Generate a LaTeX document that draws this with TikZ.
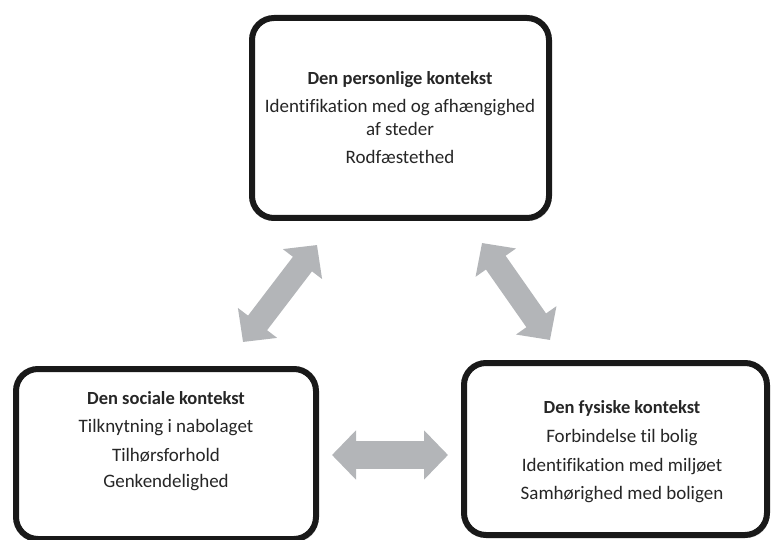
\documentclass[tikz,border=0pt]{standalone}
\usepackage{fontspec}
\setmainfont{Carlito}[Ligatures=NoCommon]
\usetikzlibrary{arrows.meta,shadows}
\begin{document}
\begin{tikzpicture}[x=1pt,y=-1pt,
  box/.style={draw=black!90,line width=6pt,rounded corners=22pt,fill=white,
    drop shadow={opacity=0.25,shadow xshift=2pt,shadow yshift=-3pt}},
  title/.style={font=\fontsize{18.5}{22}\selectfont\bfseries,text=black!85,inner sep=0pt},
  item/.style={font=\fontsize{19}{22}\selectfont,text=black!85,inner sep=0pt},
  bigarrow/.style={draw=arrowgray,line width=24pt,
    {Triangle[length=24pt,width=48pt]}-{Triangle[length=24pt,width=48pt]}}
]
\definecolor{arrowgray}{HTML}{B3B5B8}
\useasboundingbox (0,0) rectangle (774,540);
\node[box,minimum width=297pt,minimum height=200pt] (top) at (400.5,118) {};
\node[box,minimum width=300pt,minimum height=170pt] (left) at (166,454) {};
\node[box,minimum width=303pt,minimum height=172pt] (right) at (615.5,449) {};

\node[title] (t1) at (400,80) {Den personlige kontekst};
\node[item] (t2) at (400,108) {Identifikation med og afhængighed};
\node[item] (t3) at (400,129) {af steder};
\node[item] (t4) at (400,157) {Rodfæstethed};

\node[title] (l1) at (166,398) {Den sociale kontekst};
\node[item] (l2) at (166,428) {Tilknytning i nabolaget};
\node[item] (l3) at (166,455) {Tilhørsforhold};
\node[item] (l4) at (166,483) {Genkendelighed};

\node[title] (r1) at (622,408) {Den fysiske kontekst};
\node[item] (r2) at (622,438) {Forbindelse til bolig};
\node[item] (r3) at (622,467) {Identifikation med miljøet};
\node[item] (r4) at (622,495) {Samhørighed med boligen};

\coordinate (a1) at (243,342);
\coordinate (a2) at (317,245);
\coordinate (b1) at (482,243);
\coordinate (b2) at (550,340);
\coordinate (c1) at (332,455);
\coordinate (c2) at (448,455);
\draw[bigarrow] (a1) -- (a2);
\draw[bigarrow] (b1) -- (b2);
\draw[bigarrow,line width=28pt] (c1) -- (c2);
\end{tikzpicture}
\end{document}
